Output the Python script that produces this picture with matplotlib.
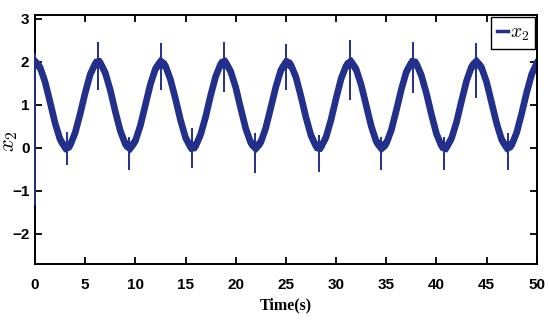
import numpy as np
import matplotlib.pyplot as plt

plt.rcParams['mathtext.fontset'] = 'cm'

t = np.arange(0, 50.01, 0.5)
x2 = [2.00, 1.88, 1.54, 1.07, 0.58, 0.20, 0.01, 0.06, 0.35, 0.79,
      1.28, 1.71, 1.96, 1.98, 1.75, 1.35, 0.85, 0.40, 0.09, 0.00,
      0.16, 0.52, 1.00, 1.48, 1.84, 2.00, 1.91, 1.59, 1.14, 0.65,
      0.24, 0.02, 0.04, 0.31, 0.72, 1.22, 1.66, 1.95, 1.99, 1.78,
      1.41, 0.92, 0.45, 0.12, 0.00, 0.13, 0.47, 0.94, 1.42, 1.81,
      1.99, 1.93, 1.65, 1.20, 0.71, 0.29, 0.04, 0.02, 0.25, 0.66,
      1.15, 1.61, 1.91, 2.00, 1.83, 1.47, 0.99, 0.51, 0.15, 0.00,
      0.10, 0.41, 0.87, 1.36, 1.77, 1.98, 1.96, 1.69, 1.27, 0.78,
      0.33, 0.05, 0.01, 0.22, 0.60, 1.09, 1.56, 1.89, 2.00, 1.87,
      1.53, 1.05, 0.57, 0.19, 0.01, 0.07, 0.36, 0.81, 1.30, 1.72,
      1.97]
chatter = 0.08  # half width of the high-frequency band

# switching spikes at peaks / troughs
spike_t = [0, 3.15, 6.25, 9.4, 12.55, 15.65, 18.8, 21.95, 25.05, 28.25,
           31.4, 34.5, 37.65, 40.8, 43.95, 47.1]
spike_hi = [2.2, 0.38, 2.47, 0.26, 2.44, 0.46, 2.47, 0.35, 2.42, 0.30,
            2.51, 0.26, 2.47, 0.26, 2.44, 0.35]
spike_lo = [-1.33, -0.40, 1.35, -0.51, 1.35, -0.47, 1.31, -0.58, 1.35, -0.55,
            1.12, -0.51, 1.28, -0.51, 1.16, -0.51]

col = '#22308c'
tickfont = ['Liberation Sans Narrow', 'Liberation Sans', 'DejaVu Sans']

fig = plt.figure(figsize=(5.5, 3.28), dpi=100)
ax = fig.add_axes([0.0636, 0.195, 0.9124, 0.759])

x2 = np.array(x2)
ax.plot(t, x2, color=col, lw=4.8, solid_joinstyle='round', label=r'$x_2$')
for off in (chatter, -chatter):
    ax.plot(t, x2 + off, color=col, lw=2.2, solid_joinstyle='round')
ax.vlines(spike_t, spike_lo, spike_hi, color=col, lw=1.4, zorder=3, clip_on=False)

ax.set_xlim(0, 50)
ax.set_ylim(-2.7, 3.09)
ax.set_xticks(np.arange(0, 51, 5))
ax.set_yticks(np.arange(-2, 4, 1))
ax.tick_params(axis='x', pad=10)
ax.tick_params(axis='y', pad=4)
ax.tick_params(direction='in', top=True, right=True, length=5, width=1.3)
for lab in ax.get_xticklabels() + ax.get_yticklabels():
    lab.set_family(tickfont)
    lab.set_fontweight('bold')
    lab.set_fontsize(11)
for s in ax.spines.values():
    s.set_linewidth(1.4)

ax.set_xlabel('Time(s)', family='Liberation Serif', fontweight='bold', fontsize=11.5)
ax.xaxis.set_label_coords(0.5, -0.135)
ax.set_ylabel(r'$x_2$', fontsize=16)
ax.yaxis.set_label_coords(-0.03, 0.494)

leg = ax.legend(loc='upper right', fontsize=14, handlelength=0.55, handletextpad=0.1,
                borderpad=0.3, borderaxespad=0.1, fancybox=False, framealpha=1)
leg.get_frame().set_edgecolor('black')
leg.get_frame().set_linewidth(1.0)
leg.get_lines()[0].set_linewidth(2.5)

fig.savefig('out.png', dpi=100)
